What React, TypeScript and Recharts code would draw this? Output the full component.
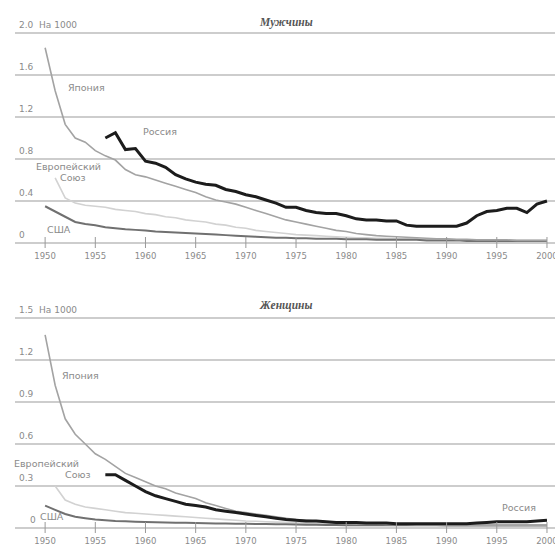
import React from 'react';
import { LineChart, Line, XAxis, YAxis, CartesianGrid } from 'recharts';

const years = [
  1950, 1951, 1952, 1953, 1954, 1955, 1956, 1957, 1958, 1959,
  1960, 1961, 1962, 1963, 1964, 1965, 1966, 1967, 1968, 1969,
  1970, 1971, 1972, 1973, 1974, 1975, 1976, 1977, 1978, 1979,
  1980, 1981, 1982, 1983, 1984, 1985, 1986, 1987, 1988, 1989,
  1990, 1991, 1992, 1993, 1994, 1995, 1996, 1997, 1998, 1999,
  2000,
];
const xTicks = [1950, 1955, 1960, 1965, 1970, 1975, 1980, 1985, 1990, 1995, 2000];

// мужчины, на 1000
const japanM = [
  1.86, 1.45, 1.13, 1.0, 0.96, 0.88, 0.83, 0.79, 0.7, 0.65,
  0.63, 0.6, 0.57, 0.54, 0.51, 0.48, 0.44, 0.41, 0.39, 0.37,
  0.34, 0.31, 0.28, 0.25, 0.22, 0.2, 0.18, 0.16, 0.14, 0.12,
  0.11, 0.09, 0.08, 0.07, 0.065, 0.06, 0.055, 0.05, 0.045, 0.04,
  0.04, 0.035, 0.035, 0.03, 0.03, 0.03, 0.03, 0.025, 0.025, 0.025,
  0.025,
];
const euM = [
  null, 0.62, 0.43, 0.38, 0.36, 0.35, 0.34, 0.32, 0.31, 0.3,
  0.28, 0.27, 0.25, 0.24, 0.22, 0.21, 0.2, 0.18, 0.17, 0.15,
  0.14, 0.12, 0.11, 0.1, 0.09, 0.08, 0.075, 0.07, 0.065, 0.06,
  0.055, 0.05, 0.05, 0.045, 0.045, 0.04, 0.04, 0.04, 0.035, 0.035,
  0.035, 0.03, 0.03, 0.03, 0.03, 0.03, 0.025, 0.025, 0.025, 0.025,
  0.025,
];
const usaM = [
  0.35, 0.3, 0.25, 0.2, 0.18, 0.17, 0.15, 0.14, 0.13, 0.125,
  0.12, 0.11, 0.105, 0.1, 0.095, 0.09, 0.085, 0.08, 0.075, 0.07,
  0.065, 0.06, 0.055, 0.05, 0.05, 0.045, 0.045, 0.04, 0.04, 0.04,
  0.035, 0.035, 0.035, 0.03, 0.03, 0.03, 0.03, 0.03, 0.025, 0.025,
  0.025, 0.025, 0.02, 0.02, 0.02, 0.02, 0.02, 0.02, 0.02, 0.02,
  0.02,
];
const russiaM = [
  null, null, null, null, null, null, 1.0, 1.05, 0.89, 0.9,
  0.78, 0.76, 0.72, 0.65, 0.61, 0.58, 0.56, 0.55, 0.51, 0.49,
  0.46, 0.44, 0.41, 0.38, 0.34, 0.34, 0.31, 0.29, 0.28, 0.28,
  0.26, 0.23, 0.22, 0.22, 0.21, 0.21, 0.17, 0.16, 0.16, 0.16,
  0.16, 0.16, 0.19, 0.26, 0.3, 0.31, 0.33, 0.33, 0.29, 0.37,
  0.4,
];

// женщины, на 1000
const japanW = [
  1.38, 1.02, 0.78, 0.67, 0.6, 0.53, 0.49, 0.44, 0.39, 0.36,
  0.33, 0.3, 0.28, 0.25, 0.23, 0.21, 0.18, 0.16, 0.14, 0.12,
  0.11, 0.1, 0.09, 0.08, 0.07, 0.06, 0.055, 0.05, 0.045, 0.04,
  0.035, 0.03, 0.03, 0.03, 0.025, 0.025, 0.025, 0.02, 0.02, 0.02,
  0.02, 0.02, 0.02, 0.02, 0.02, 0.02, 0.02, 0.02, 0.02, 0.02,
  0.02,
];
const euW = [
  null, 0.3, 0.2, 0.17, 0.15, 0.14, 0.13, 0.12, 0.11, 0.105,
  0.1, 0.095, 0.09, 0.085, 0.08, 0.075, 0.07, 0.065, 0.06, 0.055,
  0.05, 0.048, 0.045, 0.042, 0.04, 0.038, 0.035, 0.033, 0.03, 0.03,
  0.028, 0.027, 0.025, 0.025, 0.024, 0.023, 0.022, 0.021, 0.02, 0.02,
  0.02, 0.02, 0.02, 0.02, 0.02, 0.02, 0.02, 0.02, 0.02, 0.02,
  0.02,
];
const usaW = [
  0.16, 0.13, 0.1, 0.08, 0.07, 0.06, 0.055, 0.05, 0.048, 0.045,
  0.043, 0.041, 0.04, 0.038, 0.037, 0.035, 0.034, 0.033, 0.032, 0.031,
  0.03, 0.029, 0.028, 0.027, 0.026, 0.025, 0.024, 0.023, 0.022, 0.021,
  0.02, 0.02, 0.02, 0.02, 0.02, 0.02, 0.02, 0.02, 0.02, 0.02,
  0.018, 0.018, 0.018, 0.018, 0.018, 0.018, 0.018, 0.018, 0.018, 0.018,
  0.017,
];
const russiaW = [
  null, null, null, null, null, null, 0.38, 0.38, 0.34, 0.3,
  0.26, 0.23, 0.21, 0.19, 0.17, 0.16, 0.15, 0.13, 0.12, 0.11,
  0.1, 0.09, 0.08, 0.07, 0.06, 0.055, 0.05, 0.05, 0.045, 0.04,
  0.04, 0.04, 0.035, 0.035, 0.035, 0.03, 0.03, 0.03, 0.03, 0.03,
  0.03, 0.03, 0.03, 0.035, 0.04, 0.045, 0.045, 0.045, 0.045, 0.05,
  0.055,
];

const menTicks = [0, 0.4, 0.8, 1.2, 1.6, 2.0];
const womenTicks = [0, 0.3, 0.6, 0.9, 1.2, 1.5];

const menData = years.map((year, i) => ({
  year, japan: japanM[i], eu: euM[i], usa: usaM[i], russia: russiaM[i],
}));
const womenData = years.map((year, i) => ({
  year, japan: japanW[i], eu: euW[i], usa: usaW[i], russia: russiaW[i],
}));

const FONT = '"DejaVu Sans", Arial, sans-serif';
const TXT = '#8a8a8a';

const XTick = (props: any) => {
  const { x, y, payload } = props;
  return (
    <g>
      <line x1={x} x2={x} y1={y - 6} y2={y + 5} stroke="#999" strokeWidth={1} />
      <text x={x} y={y + 15.5} textAnchor="middle" fontSize={8.5} fill={TXT} fontFamily={FONT}>
        {payload.value}
      </text>
    </g>
  );
};

const YTick = (props: any) => {
  const { y, payload, top, zeroX } = props;
  const v = payload.value;
  let s = v === 0 ? '0' : v.toFixed(1);
  if (v === top) s += '  На 1000';
  return (
    <text x={v === 0 ? zeroX : 19} y={y - 5.5} fontSize={9} fill={TXT} fontFamily={FONT}
      style={{ whiteSpace: 'pre' }}>
      {s}
    </text>
  );
};

const lab: React.CSSProperties = {
  position: 'absolute', fontSize: 9.5, color: TXT, fontFamily: FONT, lineHeight: '10px', whiteSpace: 'nowrap',
};
const ttl: React.CSSProperties = {
  position: 'absolute', fontSize: 11.5, color: '#555', fontFamily: '"Liberation Serif", serif',
  fontStyle: 'italic', fontWeight: 'bold', lineHeight: '12px',
};

function Panel({ data, ticks, top, zeroX }: { data: any[]; ticks: number[]; top: number; zeroX: number }) {
  return (
    <LineChart width={555} height={265} data={data} margin={{ top: 33, right: 0, left: 0, bottom: 0 }}>
      <CartesianGrid vertical={false} stroke="#bdbdbd" strokeWidth={1.5} />
      <XAxis
        dataKey="year" type="number" domain={[1947, 2000.8]} ticks={xTicks}
        axisLine={false} tickLine={false} tickSize={0} tickMargin={0} height={22}
        tick={<XTick />} interval={0}
      />
      <YAxis
        type="number" domain={[0, top]} ticks={ticks} width={15}
        axisLine={false} tickLine={false} tickSize={0} tickMargin={0}
        tick={<YTick top={top} zeroX={zeroX} />} interval={0}
      />
      <Line dataKey="eu" stroke="#d2d2d2" strokeWidth={1.6} dot={false} isAnimationActive={false} />
      <Line dataKey="usa" stroke="#707070" strokeWidth={2} dot={false} isAnimationActive={false} />
      <Line dataKey="japan" stroke="#a3a3a3" strokeWidth={1.6} dot={false} isAnimationActive={false} />
      <Line dataKey="russia" stroke="#1c1c1c" strokeWidth={3} dot={false} isAnimationActive={false} />
    </LineChart>
  );
}

export default function App() {
  return (
    <div style={{ position: 'absolute', left: 0, top: 0, width: 555, height: 545, background: '#fff' }}>
      <div style={{ position: 'absolute', left: 0, top: 0 }}>
        <Panel data={menData} ticks={menTicks} top={2.0} zeroX={19} />
      </div>
      <div style={{ position: 'absolute', left: 0, top: 285 }}>
        <Panel data={womenData} ticks={womenTicks} top={1.5} zeroX={30} />
      </div>
      <div style={{ ...ttl, left: 260, top: 16 }}>Мужчины</div>
      <div style={{ ...ttl, left: 260, top: 299 }}>Женщины</div>

      <div style={{ ...lab, left: 68, top: 83 }}>Япония</div>
      <div style={{ ...lab, left: 143, top: 127 }}>Россия</div>
      <div style={{ ...lab, left: 36, top: 162 }}>Европейский</div>
      <div style={{ ...lab, left: 60, top: 173 }}>Союз</div>
      <div style={{ ...lab, left: 47, top: 225 }}>США</div>

      <div style={{ ...lab, left: 62, top: 371 }}>Япония</div>
      <div style={{ ...lab, left: 14, top: 459 }}>Европейский</div>
      <div style={{ ...lab, left: 65, top: 470 }}>Союз</div>
      <div style={{ ...lab, left: 40, top: 512 }}>США</div>
      <div style={{ ...lab, left: 502, top: 503 }}>Россия</div>
    </div>
  );
}
